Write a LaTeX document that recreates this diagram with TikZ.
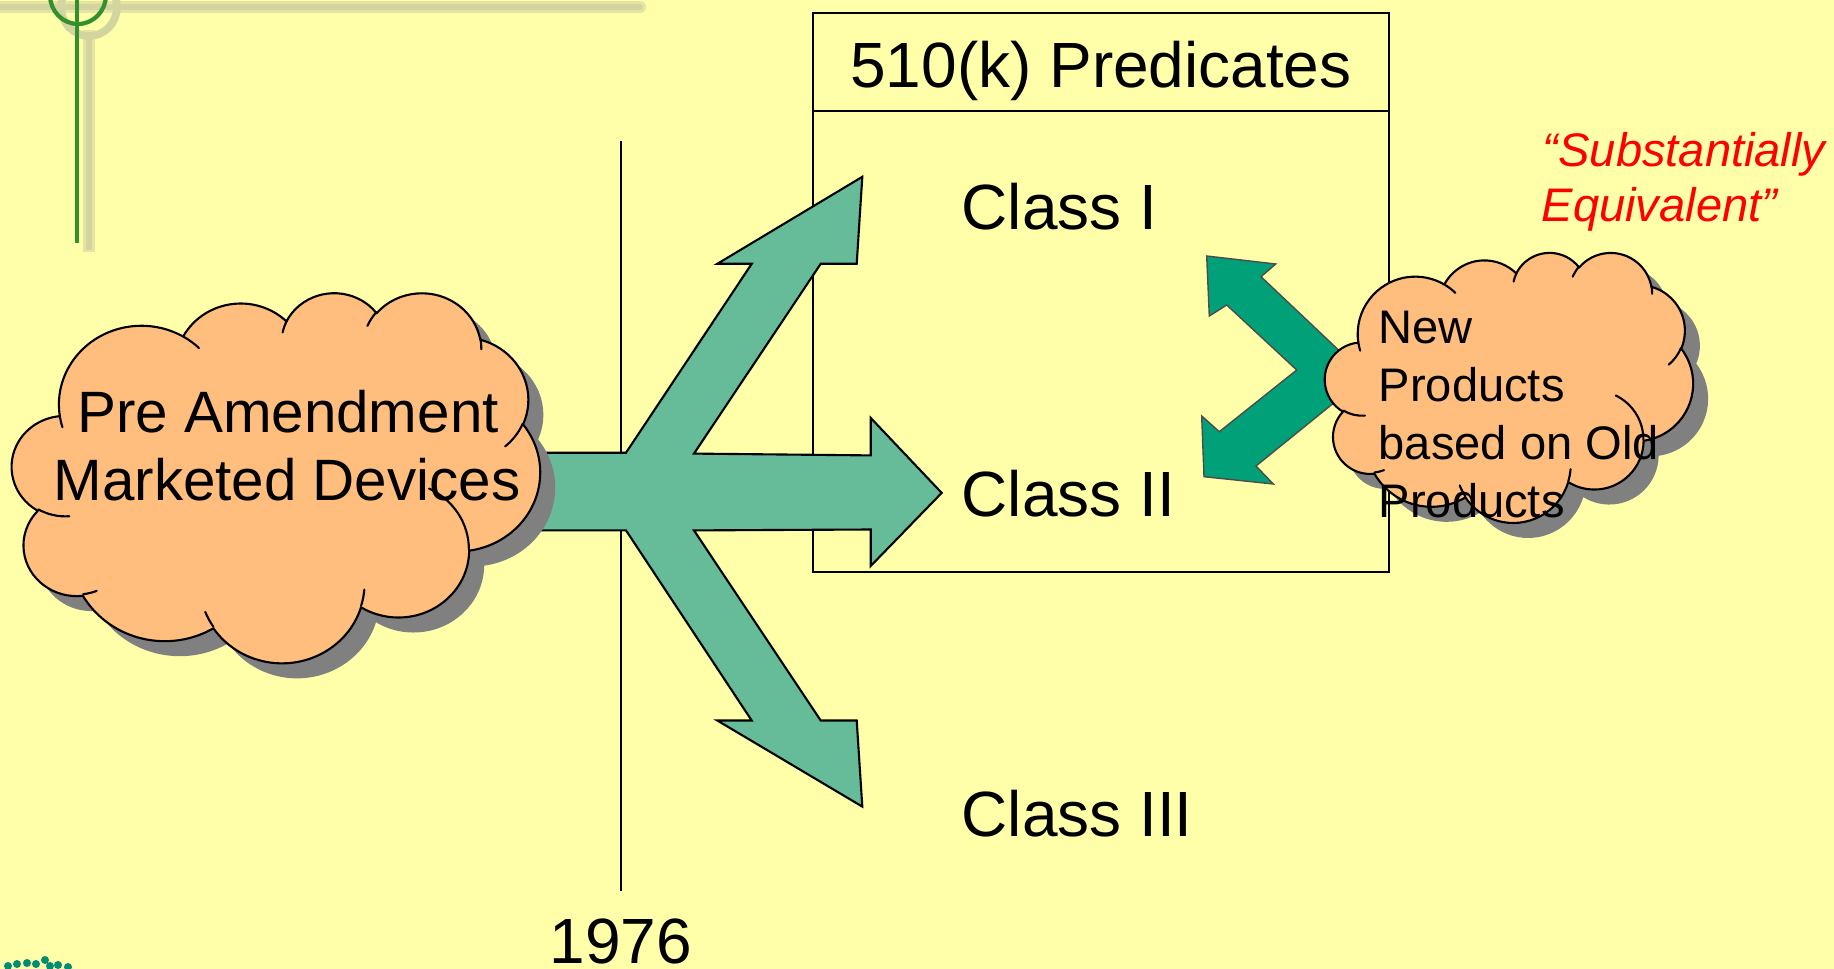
\documentclass[tikz,border=0pt]{standalone}
\usepackage{fontspec}
\setmainfont{Liberation Sans}
\usetikzlibrary{positioning}
\definecolor{slideyellow}{RGB}{255,255,170}
\definecolor{forkgreen}{RGB}{102,187,153}
\definecolor{swapgreen}{RGB}{0,160,120}
\definecolor{cloudtan}{RGB}{255,190,125}
\definecolor{shadegray}{RGB}{128,128,128}
\definecolor{rulegreen}{RGB}{50,145,45}
\definecolor{ruleshade}{RGB}{212,212,158}
\definecolor{quotered}{RGB}{255,0,0}
\definecolor{logoteal}{RGB}{0,140,115}

% one bump of the cloud (radii in 1/432, angles in degrees)
\newcommand\puff[4]{arc[x radius=#1/432, y radius=#2/432,
  start angle={atan2(#1*sin(#3),#2*cos(#3))},
  delta angle={mod(atan2(#1*sin(#3+#4),#2*cos(#3+#4))-atan2(#1*sin(#3),#2*cos(#3))+720,360)}]}
% cloud outline in a 100 x 100 frame
\newcommand\cloudoutline{(9.0278,33.2639)
  \puff{6753}{9190}{-190.4875}{123.7805}
  \puff{5333}{7267}{-144.1024}{89.9452}
  \puff{4365}{5945}{-145.8079}{99.7230}
  \puff{4857}{6595}{-130.9861}{117.2417}
  \puff{5333}{7273}{-78.7089}{109.0269}
  \puff{6775}{9220}{-46.2673}{130.2690}
  \puff{5785}{7867}{0.6250}{114.0333}
  \puff{6752}{9215}{22.4516}{115.1726}
  \puff{7720}{10543}{66.2426}{75.7110}
  \puff{4360}{5918}{-274.9421}{146.7356}
  \puff{4345}{5945}{-246.8285}{152.5189} -- cycle}
% the small inner arcs
\newcommand\cloudcreases{(10.8634,60.5949) \puff{4345}{5945}{86.7420}{26.4295}
  (16.0370,80.7847) \puff{4360}{5918}{73.6105}{11.4475}
  (38.1435,90.4861) \puff{6752}{9215}{137.6242}{14.0811}
  (66.7292,80.4421) \puff{6752}{9215}{6.4533}{15.9984}
  (79.0023,53.1343) \puff{5785}{7867}{-70.2924}{70.9174}
  (96.7546,35.5417) \puff{5333}{7273}{30.3180}{27.7515}
  (88.7130,12.5602) \puff{4857}{6595}{-13.7443}{14.8589}
  (67.3102,9.1481) \puff{4857}{6595}{-149.1815}{18.1954}
  (51.2523,10.9259) \puff{4365}{5945}{-163.4943}{17.6864}
  (32.4074,12.0185) \puff{6753}{9190}{-66.7070}{12.3194}
  (9.5532,36.5486) \puff{6753}{9190}{157.6544}{11.8582}}

\begin{document}
\begin{tikzpicture}[x=0.1mm, y=-0.1mm,
  bigtext/.style={font=\fontsize{18.2}{21.8}\selectfont, inner sep=0pt},
  cloudtext/.style={font=\fontsize{16.6}{20}\selectfont, inner sep=0pt, anchor=base},
  smalltext/.style={font=\fontsize{13.4}{16}\selectfont, inner sep=0pt, anchor=base west},
  forkarrow/.style={fill=forkgreen, draw=black, line width=0.6pt},
  swaparrow/.style={fill=swapgreen, draw=black!70, line width=0.4pt},
  cloudbody/.style={fill=cloudtan, draw=black, line width=0.6pt, line join=round},
  cloudshade/.style={fill=shadegray, xshift=1.5mm, yshift=-1.5mm},
  crease/.style={draw=black, line width=0.6pt, line cap=round}]
\useasboundingbox (0,0) rectangle (1834,969);
\clip (0,0) rectangle (1834,969);
\fill[slideyellow] (0,0) rectangle (1834,969);

% slide corner ornament
\draw[ruleshade!60!slideyellow, line width=3.4pt, line cap=round] (0,7) -- (640,7);
\draw[ruleshade, line width=1.6pt, line cap=round] (0,7) -- (640,7);
\draw[ruleshade!60!slideyellow, line width=3.6pt] (89,30) -- (89,252);
\draw[ruleshade, line width=1.8pt] (89,32) -- (89,250);
\draw[ruleshade, line width=2.2pt] (89,7) ellipse [x radius=28, y radius=29];
\draw[rulegreen, line width=1pt] (77,0) -- (77,243);
\draw[rulegreen, line width=1.2pt] (78,-5) ellipse [x radius=28, y radius=29];

% cut-off logo at the lower left
\foreach \lx/\ly in {8/966, 17/964, 27/963, 36/964, 45/960, 50/966, 58/965, 68/967}
  \fill[logoteal] (\lx,\ly) ellipse [x radius=4, y radius=4];

% 1976 time line
\coordinate (yrtop) at (621,141);
\coordinate (yrbot) at (621,891);
\draw[line width=0.6pt] (yrtop) -- (yrbot);
\node[bigtext, anchor=base] (yr) at (621,963) {1976};

% predicate box
\draw[line width=0.6pt] (813,13) rectangle (1389,572);
\draw[line width=0.6pt] (813,111) -- (1389,111);
\node[bigtext, anchor=base] (hdr) at (1101,87) {510(k) Predicates};

% three way arrow
\filldraw[forkarrow] (500,452.7) -- (626,452.7) -- (751.7,263.8) -- (717.3,263.8)
  -- (862.3,176.8) -- (856.7,263.8) -- (820.7,263.8) -- (694,453.6)
  -- (870.7,455.4) -- (870.7,417.9) -- (941.7,492.9) -- (870.7,566)
  -- (870.7,529.5) -- (694,530.4) -- (820.7,720.5) -- (856.7,720.5)
  -- (862.3,806.6) -- (717.3,720.5) -- (751.7,720.5) -- (626,530.4)
  -- (500,530.4) -- cycle;

% pre amendment cloud
\begin{scope}[shift={(12,292)}, x=0.528mm, y=-0.37mm]
  \fill[cloudshade] \cloudoutline;
  \filldraw[cloudbody] \cloudoutline;
  \draw[crease] \cloudcreases;
\end{scope}
\node[cloudtext] (pre) at (288,432) {Pre Amendment};
\node[cloudtext] (mkt) at (287,500) {Marketed Devices};

\node[bigtext, anchor=base west] (cls1) at (961,229) {Class I};
\node[bigtext, anchor=base west] (cls2) at (961,516) {Class II};
\node[bigtext, anchor=base west] (cls3) at (961,836) {Class III};

% two way arrow
\filldraw[swaparrow] (1366,376) -- (1336.7,348.3) -- (1261,276.7) -- (1275.7,264)
  -- (1206.7,256) -- (1209.3,316) -- (1226.7,305) -- (1296.7,370)
  -- (1219.3,431.7) -- (1201.7,416) -- (1204,476.7) -- (1273.3,484)
  -- (1256,466) -- (1333.3,403.3) -- cycle;

% new products cloud
\begin{scope}[shift={(1325,252)}, x=0.368mm, y=-0.27mm]
  \fill[cloudshade] \cloudoutline;
  \filldraw[cloudbody] \cloudoutline;
  \draw[crease] \cloudcreases;
\end{scope}
\foreach \txt [count=\k] in {New, Products, based on Old, Products}
  \node[smalltext] (np\k) at (1378,{285+58*\k}) {\txt};

\node[smalltext, text=quotered, font=\fontsize{13.4}{16}\selectfont\itshape] (se1) at (1542,166) {“Substantially};
\node[smalltext, text=quotered, font=\fontsize{13.4}{16}\selectfont\itshape] (se2) at (1541,221) {Equivalent”};
\end{tikzpicture}
\end{document}
